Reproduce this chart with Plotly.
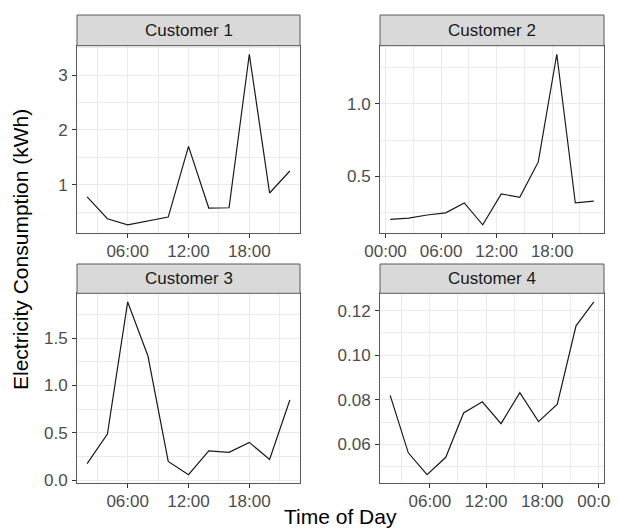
import plotly.graph_objects as go

# ---------------- data ----------------
c1_times = ["02:00", "04:00", "06:00", "08:00", "10:00", "12:00", "14:00", "16:00", "18:00", "20:00", "22:00"]
c1_kwh = [0.78, 0.38, 0.27, 0.345, 0.41, 1.70, 0.575, 0.58, 3.38, 0.85, 1.25]

c2_times = ["00:30", "02:30", "04:30", "06:30", "08:30", "10:30", "12:30", "14:30", "16:30", "18:30", "20:30", "22:30"]
c2_kwh = [0.205, 0.214, 0.235, 0.25, 0.318, 0.168, 0.38, 0.357, 0.60, 1.34, 0.318, 0.33]

c3_times = ["02:00", "04:00", "06:00", "08:00", "10:00", "12:00", "14:00", "16:00", "18:00", "20:00", "22:00"]
c3_kwh = [0.176, 0.487, 1.88, 1.31, 0.20, 0.06, 0.31, 0.296, 0.40, 0.22, 0.847]

c4_times = ["01:46", "03:42", "05:42", "07:42", "09:36", "11:36", "13:36", "15:36", "17:36", "19:36", "21:36", "23:30"]
c4_kwh = [0.082, 0.0562, 0.0464, 0.0542, 0.0741, 0.0791, 0.0693, 0.0832, 0.0702, 0.078, 0.1132, 0.1239]

panel_titles = ["Customer 1", "Customer 2", "Customer 3", "Customer 4"]

x_tick_hours = [0, 6, 12, 18, 24]
x_tick_labels = ["00:00", "06:00", "12:00", "18:00", "00:00"]
x_minor_hours = [3, 9, 15, 21]

y_ticks = [[1, 2, 3], [0.5, 1.0], [0.0, 0.5, 1.0, 1.5], [0.06, 0.08, 0.10, 0.12]]
y_tick_labels = [["1", "2", "3"], ["0.5", "1.0"], ["0.0", "0.5", "1.0", "1.5"], ["0.06", "0.08", "0.10", "0.12"]]
y_minor = [[0.5, 1.5, 2.5, 3.5], [0.25, 0.75, 1.25], [0.25, 0.75, 1.25, 1.75], [0.05, 0.07, 0.09, 0.11]]

x_title = "Time of Day"
y_title = "Electricity Consumption (kWh)"

# ---------------- helpers ----------------
def to_hours(ts):
    out = []
    for t in ts:
        h, m = t.split(":")
        out.append(int(h) + int(m) / 60.0)
    return out

def expand(vals, frac=0.05):
    lo, hi = min(vals), max(vals)
    pad = (hi - lo) * frac
    return [lo - pad, hi + pad]

# page body has an 8px margin; figure is placed at (8, 8)
OFF = 8
W, H = 619 - OFF, 530 - OFF
FONT = "Liberation Sans, Arial, sans-serif"

def px(x):
    return (x - OFF) / W

def py(y):
    return 1 - (y - OFF) / H

series = [(to_hours(c1_times), c1_kwh), (to_hours(c2_times), c2_kwh),
          (to_hours(c3_times), c3_kwh), (to_hours(c4_times), c4_kwh)]

# panel pixel boxes (page coords): (left, right) and (strip_top, plot_top, plot_bottom)
cols = [(77, 300), (380, 604)]
rows = [(15, 45.7, 233.3), (264, 293.3, 483.3)]

fig = go.Figure()
grid_col = "#ebebeb"
border_col = "#5a5a5a"

for i, (xs, ys) in enumerate(series):
    r, c = divmod(i, 2)
    left, right = cols[c]
    stop, ptop, pbot = rows[r]
    xd = [px(left), px(right)]
    yd = [py(pbot), py(ptop)]
    n = "" if i == 0 else str(i + 1)
    fig.add_trace(go.Scatter(x=xs, y=ys, mode="lines",
                             line=dict(color="#1a1a1a", width=1.2),
                             xaxis="x" + n, yaxis="y" + n, showlegend=False,
                             hoverinfo="skip"))
    xr = expand(xs)
    yr = expand(ys)
    fig.update_layout(**{
        "xaxis" + n: dict(domain=xd, anchor="y" + n, range=xr, automargin=False,
                          tickmode="array", tickvals=x_tick_hours, ticktext=x_tick_labels,
                          ticklabeloverflow="allow", ticklabelstandoff=-2,
                          showgrid=True, gridcolor=grid_col, gridwidth=1,
                          minor=dict(tickmode="array", tickvals=x_minor_hours, showgrid=True,
                                     gridcolor=grid_col, gridwidth=0.6, ticks=""),
                          zeroline=False, showline=True, mirror=True, linecolor=border_col,
                          linewidth=1, ticks="outside", ticklen=4, tickwidth=1,
                          tickcolor="#333333",
                          tickfont=dict(family=FONT, size=17, color="#4d4d4d")),
        "yaxis" + n: dict(domain=yd, anchor="x" + n, range=yr, automargin=False,
                          tickmode="array", tickvals=y_ticks[i], ticktext=y_tick_labels[i],
                          ticklabelstandoff=1,
                          showgrid=True, gridcolor=grid_col, gridwidth=1,
                          minor=dict(tickmode="array", tickvals=y_minor[i], showgrid=True,
                                     gridcolor=grid_col, gridwidth=0.6, ticks=""),
                          zeroline=False, showline=True, mirror=True, linecolor=border_col,
                          linewidth=1, ticks="outside", ticklen=4, tickwidth=1,
                          tickcolor="#333333",
                          tickfont=dict(family=FONT, size=17, color="#4d4d4d")),
    })
    # strip
    fig.add_shape(type="rect", xref="paper", yref="paper",
                  x0=xd[0], x1=xd[1], y0=py(ptop), y1=py(stop),
                  fillcolor="#d9d9d9", line=dict(color=border_col, width=1), layer="above")
    fig.add_annotation(xref="paper", yref="paper", x=(xd[0] + xd[1]) / 2,
                       y=py((stop + ptop) / 2), text=panel_titles[i], showarrow=False,
                       xanchor="center", yanchor="middle",
                       font=dict(family=FONT, size=17, color="#1a1a1a"))

fig.add_annotation(xref="paper", yref="paper", x=px(340.5), y=py(516), text=x_title,
                   showarrow=False, xanchor="center", yanchor="middle",
                   font=dict(family=FONT, size=21, color="#000000"))
fig.add_annotation(xref="paper", yref="paper", x=px(20), y=py(250), text=y_title,
                   showarrow=False, xanchor="center", yanchor="middle", textangle=-90,
                   font=dict(family=FONT, size=21, color="#000000"))

fig.update_layout(width=W, height=H, margin=dict(l=0, r=0, t=0, b=0, autoexpand=False),
                  paper_bgcolor="white", plot_bgcolor="white",
                  font=dict(family=FONT))

fig.write_html("out.html")
